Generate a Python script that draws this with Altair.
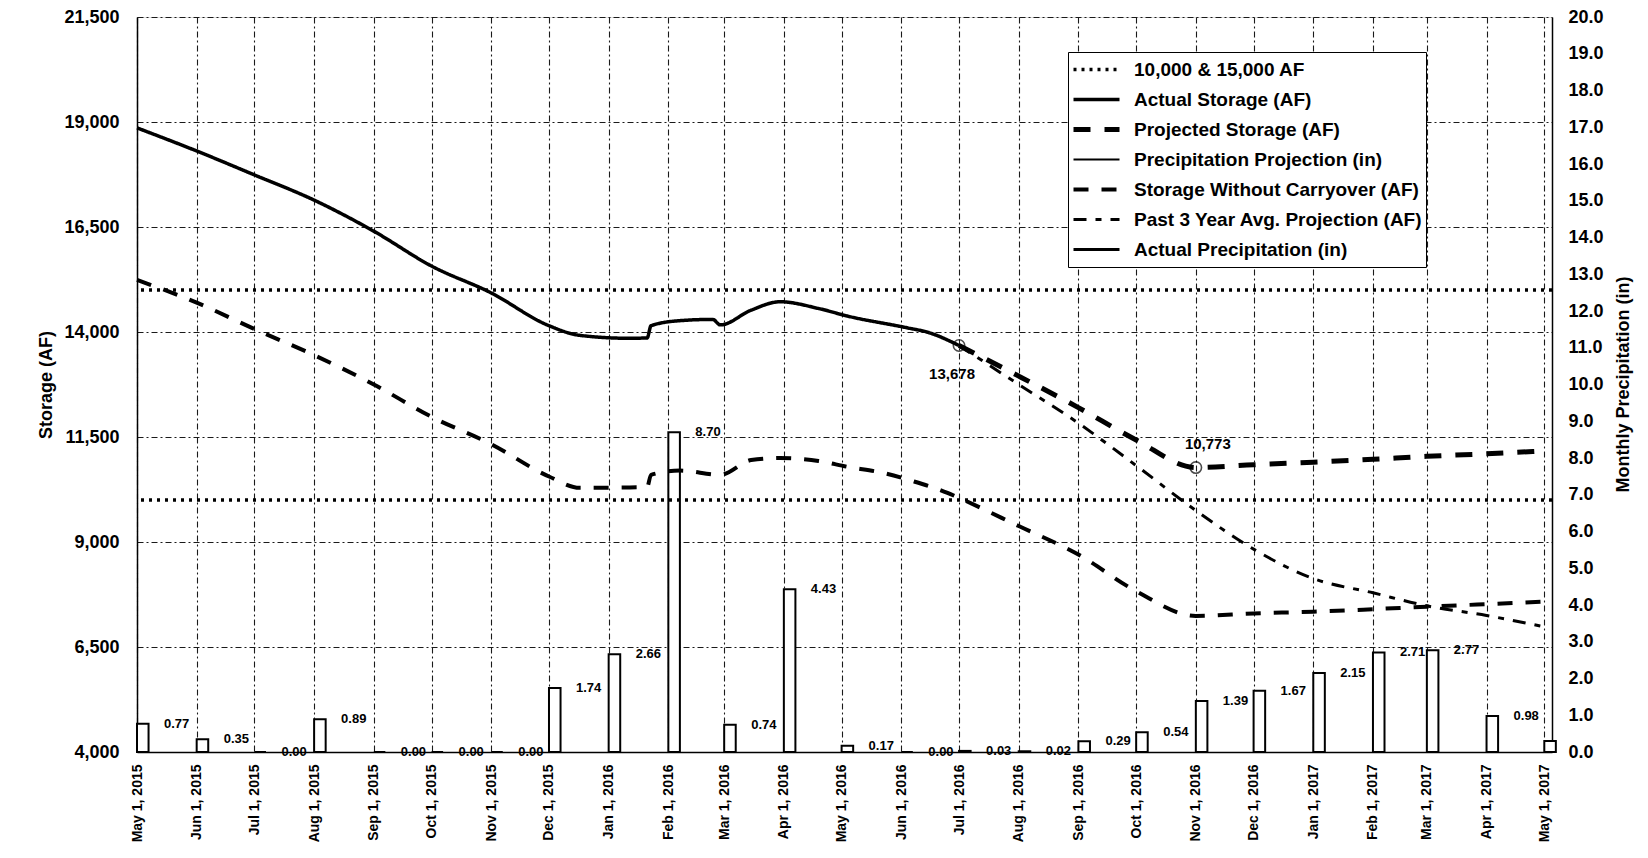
import altair as alt
import pandas as pd

FONT = "Liberation Sans"

# ---------------- data ----------------
SERIES = [
    "10,000 & 15,000 AF",
    "Actual Storage (AF)",
    "Projected Storage (AF)",
    "Precipitation Projection (in)",
    "Storage Without Carryover (AF)",
    "Past 3 Year Avg. Projection (AF)",
    "Actual Precipitation (in)",
]
DASHES = [[3, 5], [1, 0], [17, 14], [1, 0], [15, 13], [13, 9, 6, 9], [1, 0]]
WIDTHS = [3.5, 3.5, 5, 2, 4, 3, 3]

ref_levels = [10000, 15000]

actual_dates = ["2015-05-01", "2015-06-01", "2015-07-01", "2015-08-01", "2015-09-01",
                "2015-10-01", "2015-11-01", "2015-12-01", "2015-12-17", "2016-01-12",
                "2016-01-21", "2016-01-23", "2016-02-07", "2016-02-24", "2016-02-28",
                "2016-03-15", "2016-03-30", "2016-04-19", "2016-05-04", "2016-06-04",
                "2016-06-15", "2016-07-01"]
actual_vals = [18860, 18310, 17740, 17140, 16400,
               15570, 14930, 14150, 13920, 13850,
               13860, 14150, 14270, 14300, 14170,
               14520, 14720, 14560, 14380, 14100,
               13990, 13678]

proj_dates = ["2016-07-01", "2016-08-01", "2016-09-01", "2016-10-01", "2016-11-01",
              "2016-12-01", "2017-01-01", "2017-02-01", "2017-03-01", "2017-04-01",
              "2017-05-01"]
proj_vals = [13678, 12950, 12200, 11430, 10773, 10840, 10900, 10970, 11040, 11100, 11170]

woc_dates = ["2015-05-01", "2015-06-01", "2015-07-01", "2015-08-01", "2015-09-01",
             "2015-10-01", "2015-11-01", "2015-12-01", "2015-12-17", "2016-01-12",
             "2016-01-21", "2016-01-23", "2016-02-07", "2016-02-28", "2016-03-15",
             "2016-03-30", "2016-04-19", "2016-05-04", "2016-05-23", "2016-06-07",
             "2016-06-25", "2016-07-01", "2016-08-01", "2016-09-01", "2016-10-01",
             "2016-11-01", "2016-12-01", "2017-01-01", "2017-02-01", "2017-03-01",
             "2017-04-01", "2017-05-01"]
woc_vals = [15240, 14700, 14070, 13450, 12750,
            11980, 11330, 10560, 10290, 10300,
            10310, 10600, 10700, 10600, 10950,
            11000, 10930, 10790, 10640, 10450,
            10170, 10050, 9380, 8700, 7830,
            7240, 7300, 7340, 7400, 7460,
            7520, 7580]

avg3_dates = ["2016-07-01", "2016-08-01", "2016-09-01", "2016-10-01", "2016-11-01",
              "2016-12-01", "2017-01-01", "2017-02-01", "2017-03-01", "2017-04-01",
              "2017-05-01"]
avg3_vals = [13678, 12750, 11830, 10820, 9750, 8830, 8130, 7790, 7480, 7250, 6980]

precip_dates = ["2015-05-01", "2015-06-01", "2015-07-01", "2015-08-01", "2015-09-01",
                "2015-10-01", "2015-11-01", "2015-12-01", "2016-01-01", "2016-02-01",
                "2016-03-01", "2016-04-01", "2016-05-01", "2016-06-01", "2016-07-01",
                "2016-08-01", "2016-09-01", "2016-10-01", "2016-11-01", "2016-12-01",
                "2017-01-01", "2017-02-01", "2017-03-01", "2017-04-01", "2017-05-01"]
precip_vals = [0.77, 0.35, 0.00, 0.89, 0.00, 0.00, 0.00, 1.74, 2.66, 8.70,
               0.74, 4.43, 0.17, 0.00, 0.03, 0.02, 0.29, 0.54, 1.39, 1.67,
               2.15, 2.71, 2.77, 0.98, 0.30]

marker_dates = ["2016-07-01", "2016-11-01"]
marker_vals = [13678, 10773]

storage_ticks = [4000, 6500, 9000, 11500, 14000, 16500, 19000, 21500]
precip_ticks = [float(i) for i in range(0, 21)]

# ---------------- tables ----------------
def ts(lst):
    return pd.to_datetime(lst)

lines_df = pd.concat([
    pd.DataFrame({"date": ts(actual_dates), "value": actual_vals, "series": SERIES[1]}),
    pd.DataFrame({"date": ts(proj_dates), "value": proj_vals, "series": SERIES[2]}),
    pd.DataFrame({"date": ts(woc_dates), "value": woc_vals, "series": SERIES[4]}),
    pd.DataFrame({"date": ts(avg3_dates), "value": avg3_vals, "series": SERIES[5]}),
], ignore_index=True)

ref_df = pd.DataFrame({"value": ref_levels, "series": SERIES[0]})

pdates = ts(precip_dates)
precip_df = pd.DataFrame({
    "date": pdates,
    "end": pdates + pd.Timedelta(days=6),
    "precip": precip_vals,
})
label_df = precip_df[precip_df["date"] < pd.Timestamp("2017-05-01")].copy()
label_df["label"] = [f"{v:.2f}" for v in label_df["precip"]]

marker_df = pd.DataFrame({"date": ts(marker_dates), "value": marker_vals})
marker_df["label"] = [f"{v:,}" for v in marker_vals]

# ---------------- shared encodings ----------------
x_scale = alt.Scale(domain=[alt.DateTime(year=2015, month=5, date=1),
                            alt.DateTime(year=2017, month=5, date=5)])
x_axis = alt.Axis(
    title=None, format="%b %-d, %Y", labelAngle=270,
    tickCount=alt.TimeIntervalStep(interval="month", step=1),
    labelOverlap=False, labelFont=FONT, labelFontSize=14, labelFontWeight="bold",
    labelColor="black", labelPadding=12, ticks=False,
    grid=True, gridDash=[6, 3, 2, 3], gridColor="#1a1a1a", gridWidth=1.1,
    domainColor="black", domainWidth=1.5,
)
X = alt.X("date:T", scale=x_scale, axis=x_axis)

storage_scale = alt.Scale(domain=[4000, 21500], nice=False, zero=False)
storage_axis = alt.Axis(
    orient="left", values=storage_ticks, labelExpr="format(datum.value, ',')",
    title="Storage (AF)",
    titleFont=FONT, titleFontSize=18, titleFontWeight="bold", titleColor="black",
    titlePadding=8, labelFont=FONT, labelFontSize=18, labelFontWeight="bold",
    labelColor="black", labelPadding=18, ticks=False,
    grid=True, gridDash=[6, 3, 2, 3], gridColor="#1a1a1a", gridWidth=1.1,
    domainColor="black", domainWidth=1.5,
)
precip_scale = alt.Scale(domain=[0, 20], nice=False, zero=True)
precip_axis = alt.Axis(
    orient="right", values=precip_ticks, labelExpr="format(datum.value, '.1f')",
    title="Monthly Precipitation (in)", titleAngle=270, titleX=71, titleY=367,
    titleAlign="center", titleBaseline="middle",
    titleFont=FONT, titleFontSize=18, titleFontWeight="bold", titleColor="black",
    labelFont=FONT, labelFontSize=18, labelFontWeight="bold",
    labelColor="black", labelPadding=16, ticks=False, grid=False,
    domainColor="black", domainWidth=1.5,
)

legend = alt.Legend(
    title=None, orient="none", legendX=931, legendY=35,
    symbolType="stroke", symbolSize=2116, symbolStrokeColor="black",
    labelFont=FONT, labelFontSize=19, labelFontWeight="bold", labelColor="black",
    labelOffset=12, labelLimit=400, rowPadding=1, padding=3, clipHeight=29,
    strokeColor="black", fillColor="white",
)
dash_enc = alt.StrokeDash("series:N", scale=alt.Scale(type="ordinal", domain=SERIES, range=DASHES),
                          legend=legend)
width_enc = alt.StrokeWidth("series:N", scale=alt.Scale(type="ordinal", domain=SERIES, range=WIDTHS),
                            legend=legend)

# ---------------- precipitation (right axis) ----------------
bars = alt.Chart(precip_df).mark_bar(fill="white", stroke="black", strokeWidth=2).encode(
    x=X, x2="end:T",
    y=alt.Y("precip:Q", scale=precip_scale, axis=precip_axis),
    y2=alt.datum(0),
)
bar_labels = alt.Chart(label_df).mark_text(
    align="left", baseline="middle", dx=27, font=FONT, fontSize=13,
    fontWeight="bold", color="black",
).encode(
    x=X, y=alt.Y("precip:Q", scale=precip_scale, axis=precip_axis), text="label:N",
)
precip_layer = alt.layer(bars, bar_labels)

# ---------------- storage (left axis) ----------------
refs = alt.Chart(ref_df).mark_rule(color="black").encode(
    y=alt.Y("value:Q", scale=storage_scale, axis=storage_axis),
    strokeDash=dash_enc, strokeWidth=width_enc,
)
lines = alt.Chart(lines_df).mark_line(color="black", interpolate="monotone").encode(
    x=X, y=alt.Y("value:Q", scale=storage_scale, axis=storage_axis),
    strokeDash=dash_enc, strokeWidth=width_enc, detail="series:N",
)
markers = alt.Chart(marker_df).mark_point(
    shape="circle", filled=False, size=130, color="black", strokeWidth=1.6,
).encode(x=X, y=alt.Y("value:Q", scale=storage_scale, axis=storage_axis))

m1 = alt.Chart(marker_df.iloc[[0]]).mark_text(
    dx=-7, dy=28, font=FONT, fontSize=15, fontWeight="bold", color="black",
).encode(x=X, y=alt.Y("value:Q", scale=storage_scale, axis=storage_axis), text="label:N")
m2 = alt.Chart(marker_df.iloc[[1]]).mark_text(
    dx=12, dy=-24, font=FONT, fontSize=15, fontWeight="bold", color="black",
).encode(x=X, y=alt.Y("value:Q", scale=storage_scale, axis=storage_axis), text="label:N")

storage_layer = alt.layer(refs, lines, markers, m1, m2)

chart = alt.layer(precip_layer, storage_layer).resolve_scale(
    y="independent"
).properties(
    width=1415, height=735,
    autosize=alt.AutoSizeParams(type="none"),
    padding={"left": 129, "top": 9, "right": 88, "bottom": 98},
    background="white",
).configure_view(
    stroke="black", strokeWidth=1.5,
).configure_legend(
    strokeWidth=2,
).configure(font=FONT)

chart.save("out.html", embed_options={"renderer": "svg", "actions": False})
